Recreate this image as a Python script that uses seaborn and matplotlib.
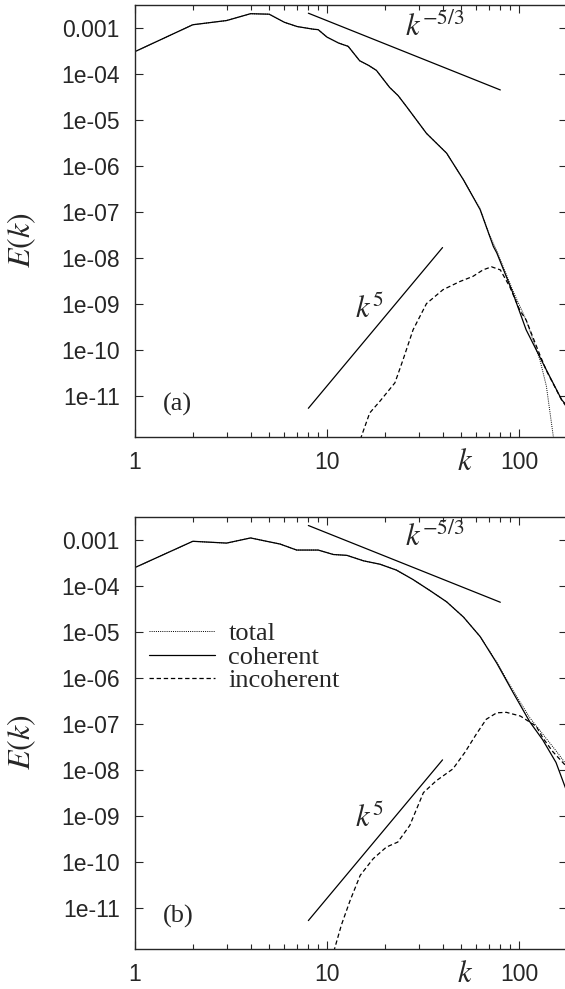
import numpy as np
import pandas as pd
import seaborn as sns
import matplotlib
matplotlib.use("Agg")
import matplotlib.pyplot as plt
from matplotlib.ticker import FixedLocator, FixedFormatter, LogLocator, NullLocator

sns.set_style("ticks")
plt.rcParams["font.family"] = ["Liberation Sans", "DejaVu Sans"]
plt.rcParams["mathtext.fontset"] = "stix"

# ---- data ----
# panel (a)
k_coh_a = [1, 2, 3, 4, 5, 6, 7, 8.5, 9, 10, 11.5, 12.9, 14.8, 16.5, 18.1, 21.2, 23.5, 26, 33,
           42, 51.4, 62.8, 73.6, 76.7, 93, 109, 139, 167, 178]
E_coh_a = [3.0e-4, 1.15e-3, 1.42e-3, 2.0e-3, 1.95e-3, 1.3e-3, 1.05e-3, 9.2e-4, 9.0e-4, 6.2e-4,
           4.6e-4, 3.9e-4, 1.9e-4, 1.5e-4, 1.17e-4, 5.0e-5, 3.3e-5, 1.9e-5, 5.0e-6,
           1.86e-6, 4.9e-7, 1.1e-7, 1.74e-8, 1.26e-8, 1.7e-9, 2.7e-10, 3.6e-11, 8.1e-12, 6.0e-12]

k_tot_a = [1, 2, 3, 4, 5, 6, 7, 8.5, 9, 10, 11.5, 12.9, 14.8, 16.5, 18.1, 21.2, 23.5, 26, 33,
           42, 51.4, 62.8, 70, 76.7, 93, 109, 128.6, 139, 151, 156]
E_tot_a = [3.0e-4, 1.15e-3, 1.42e-3, 2.0e-3, 1.95e-3, 1.3e-3, 1.05e-3, 9.2e-4, 9.0e-4, 6.2e-4,
           4.6e-4, 3.9e-4, 1.9e-4, 1.5e-4, 1.17e-4, 5.0e-5, 3.3e-5, 1.9e-5, 5.0e-6,
           1.86e-6, 4.9e-7, 1.15e-7, 3.2e-8, 1.4e-8, 1.9e-9, 4.4e-10, 6.0e-11, 1.6e-11, 1.3e-12, 5.0e-13]

k_inc_a = [14.5, 16.7, 18.9, 22.6, 24.9, 28.1, 33.0, 40.2, 49.1, 57.6, 65, 72, 80, 89.7, 101, 109,
           128, 139, 167, 178]
E_inc_a = [8.0e-13, 4.2e-12, 7.6e-12, 1.9e-11, 6.0e-11, 2.7e-10, 1.0e-9, 2.0e-9, 3.0e-9, 3.9e-9,
           5.4e-9, 6.3e-9, 5.4e-9, 2.3e-9, 7.2e-10, 4.4e-10, 8.0e-11, 3.5e-11, 8.0e-12, 5.5e-12]

# panel (b)
k_coh_b = [1, 2, 3, 4, 4.85, 5.7, 6.95, 9, 10.8, 12.7, 15.5, 18.9, 23, 28, 34.4, 42, 51.4,
           62.8, 76.6, 93.5, 114, 133, 156, 178]
E_coh_b = [2.5e-4, 9.3e-4, 8.5e-4, 1.1e-3, 9.3e-4, 8.1e-4, 6.0e-4, 6.0e-4, 4.8e-4, 4.6e-4,
           3.5e-4, 2.95e-4, 2.2e-4, 1.38e-4, 7.9e-5, 4.5e-5, 2.1e-5,
           7.9e-6, 2.1e-6, 4.7e-7, 1.1e-7, 4.5e-8, 1.45e-8, 3.3e-9]

k_tot_b = [1, 2, 3, 4, 4.85, 5.7, 6.95, 9, 10.8, 12.7, 15.5, 18.9, 23, 28, 34.4, 42, 51.4,
           62.8, 76.6, 93.5, 114, 133, 156, 178]
E_tot_b = [2.5e-4, 9.3e-4, 8.5e-4, 1.1e-3, 9.3e-4, 8.1e-4, 6.0e-4, 6.0e-4, 4.8e-4, 4.6e-4,
           3.5e-4, 2.95e-4, 2.2e-4, 1.38e-4, 7.9e-5, 4.5e-5, 2.1e-5,
           7.9e-6, 2.2e-6, 5.2e-7, 1.35e-7, 6.0e-8, 2.6e-8, 1.25e-8]

k_inc_b = [10.6, 11.9, 13.2, 14.9, 17.4, 20.4, 23.4, 27, 31.8, 37.1, 45.3, 52.3, 60, 67.6,
           76.6, 86, 101.7, 123, 133, 150, 178]
E_inc_b = [8.0e-13, 4.3e-12, 1.45e-11, 5.1e-11, 1.17e-10, 2.1e-10, 2.7e-10, 6.2e-10, 3.2e-9,
           5.8e-9, 1.05e-8, 2.4e-8, 6.0e-8, 1.26e-7, 1.74e-7, 1.78e-7, 1.48e-7, 8.9e-8, 5.0e-8,
           2.5e-8, 1.15e-8]

# power-law guide lines
k_m53 = [8, 80]
E_m53 = [2.05e-3, 4.4e-5]
k_p5 = [8, 40]
E_p5 = [5.3e-12, 1.65e-8]

yticks = [1e-3, 1e-4, 1e-5, 1e-6, 1e-7, 1e-8, 1e-9, 1e-10, 1e-11]
ylabels = ["0.001", "1e-04", "1e-05", "1e-06", "1e-07", "1e-08", "1e-09", "1e-10", "1e-11"]
xticks = [1, 10, 100]
xlabels = ["1", "10", "100"]

SERIF = ["Liberation Serif", "DejaVu Serif"]


def draw_panel(ax, coh, tot, inc, tag, e53_pos, e5_pos, legend=False):
    lw = 0.9
    sns.lineplot(x=tot[0], y=tot[1], ax=ax, color="black", lw=lw, label="total",
                 estimator=None, sort=False)
    sns.lineplot(x=coh[0], y=coh[1], ax=ax, color="black", lw=lw, label="coherent",
                 estimator=None, sort=False)
    sns.lineplot(x=inc[0], y=inc[1], ax=ax, color="black", lw=lw, label="incoherent",
                 estimator=None, sort=False)
    ax.lines[0].set_linestyle((0, (1, 1.2)))
    ax.lines[0].set_linewidth(0.7)
    ax.lines[2].set_dashes((3.5, 2.2))
    sns.lineplot(x=k_m53, y=E_m53, ax=ax, color="black", lw=lw, estimator=None)
    sns.lineplot(x=k_p5, y=E_p5, ax=ax, color="black", lw=lw, estimator=None)

    ax.set_xscale("log")
    ax.set_yscale("log")
    ax.set_xlim(1, 178)
    ax.set_ylim(10 ** -11.9, 10 ** -2.51)

    ax.xaxis.set_major_locator(FixedLocator(xticks))
    ax.xaxis.set_major_formatter(FixedFormatter(xlabels))
    ax.xaxis.set_minor_locator(LogLocator(base=10, subs=np.arange(2, 10)))
    ax.yaxis.set_major_locator(FixedLocator(yticks))
    ax.yaxis.set_major_formatter(FixedFormatter(ylabels))
    ax.yaxis.set_minor_locator(NullLocator())
    ax.tick_params(which="both", direction="in", top=True, right=True, width=0.8)
    ax.tick_params(which="major", length=6, labelsize=16.5)
    ax.tick_params(which="minor", length=3.5)
    ax.tick_params(axis="x", pad=10)
    ax.tick_params(axis="y", pad=11)
    for s in ax.spines.values():
        s.set_linewidth(1.0)

    ax.set_xlabel("")
    ax.set_ylabel(r"$E(k)$", fontsize=23)
    ax.text(0.764, -0.058, r"$k$", transform=ax.transAxes, fontsize=22,
            ha="center", va="center")
    ax.text(0.065, 0.076, tag, transform=ax.transAxes, fontsize=19, family=SERIF,
            ha="left", va="center")
    ax.text(e53_pos[0], e53_pos[1], r"$k^{-5/3}$", fontsize=22, ha="left", va="center")
    ax.text(e5_pos[0], e5_pos[1], r"$k^{5}$", fontsize=22, ha="left", va="center")

    if legend:
        ax.legend(loc="upper left", bbox_to_anchor=(0.033, 0.758), frameon=False,
                  prop={"family": SERIF, "size": 19}, handlelength=2.5,
                  handletextpad=0.5, labelspacing=0.0, borderpad=0, borderaxespad=0)
    else:
        ax.get_legend().remove()


fig = plt.figure(figsize=(5.65, 9.89), dpi=100)
ax_a = fig.add_axes([135 / 565, 552 / 989, 432 / 565, 432 / 989])
ax_b = fig.add_axes([135 / 565, 39.7 / 989, 432 / 565, 432 / 989])

draw_panel(ax_a, (k_coh_a, E_coh_a), (k_tot_a, E_tot_a), (k_inc_a, E_inc_a), "(a)",
           (25.5, 1.0e-3), (14.0, 7.3e-10))
draw_panel(ax_b, (k_coh_b, E_coh_b), (k_tot_b, E_tot_b), (k_inc_b, E_inc_b), "(b)",
           (25.5, 1.1e-3), (14.0, 8.5e-10), legend=True)

ax_a.yaxis.set_label_coords(-0.225, 0.456)
ax_b.yaxis.set_label_coords(-0.225, 0.48)

fig.savefig("out.png", dpi=100)
